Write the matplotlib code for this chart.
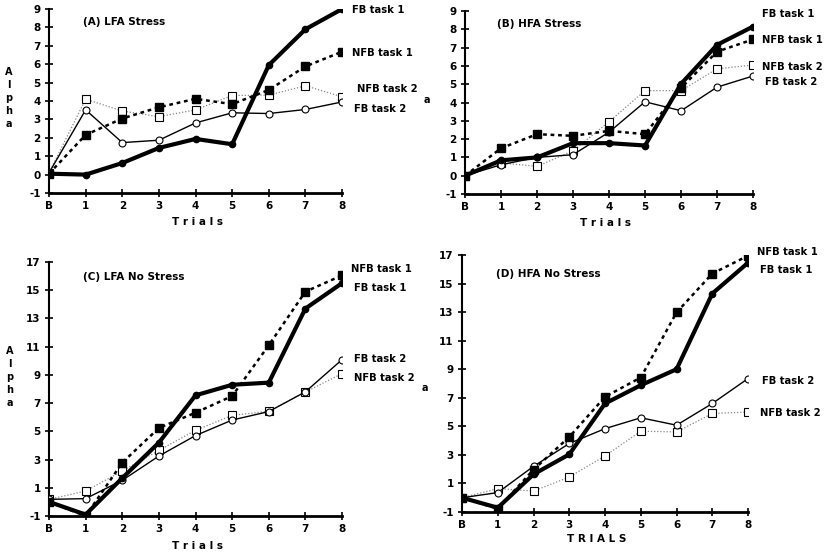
import matplotlib.pyplot as plt

plt.rcParams['axes.unicode_minus'] = False

trials = [0, 1, 2, 3, 4, 5, 6, 7, 8]
trial_labels = ['B', '1', '2', '3', '4', '5', '6', '7', '8']

# (A) LFA Stress
a_fb1 = [0.05, 0.0, 0.63, 1.45, 1.94, 1.65, 5.95, 7.9, 9.0]
a_nfb1 = [0.05, 2.16, 3.05, 3.66, 4.12, 3.83, 4.6, 5.88, 6.68]
a_nfb2 = [0.1, 4.1, 3.46, 3.15, 3.52, 4.3, 4.32, 4.83, 4.23]
a_fb2 = [0.1, 3.52, 1.74, 1.87, 2.81, 3.36, 3.32, 3.54, 3.95]

# (B) HFA Stress
b_fb1 = [0.0, 0.84, 1.0, 1.78, 1.78, 1.65, 5.02, 7.15, 8.15]
b_nfb1 = [0.0, 1.5, 2.27, 2.18, 2.45, 2.27, 4.8, 6.78, 7.45]
b_nfb2 = [0.0, 0.7, 0.51, 1.36, 2.95, 4.65, 4.65, 5.84, 6.05]
b_fb2 = [0.0, 0.6, 1.0, 1.15, 2.38, 4.04, 3.55, 4.84, 5.45]

# (C) LFA No Stress
c_fb1 = [0.0, -0.9, 1.69, 4.2, 7.55, 8.3, 8.45, 13.7, 15.5]
c_nfb1 = [0.0, -1.0, 2.78, 5.24, 6.32, 7.5, 11.1, 14.9, 16.05]
c_nfb2 = [0.18, 0.77, 2.19, 3.65, 5.07, 6.13, 6.42, 7.79, 9.09]
c_fb2 = [0.18, 0.23, 1.53, 3.25, 4.7, 5.8, 6.4, 7.8, 10.08]

# (D) HFA No Stress
d_fb1 = [0.0, -0.7, 1.64, 3.04, 6.6, 7.88, 9.0, 14.3, 16.46]
d_nfb1 = [0.0, -0.77, 1.97, 4.26, 7.07, 8.42, 12.98, 15.7, 16.95]
d_nfb2 = [0.0, 0.64, 0.47, 1.45, 2.93, 4.66, 4.61, 5.9, 6.0]
d_fb2 = [0.0, 0.36, 2.2, 3.8, 4.84, 5.6, 5.08, 6.6, 8.35]

a_ticks = [-1, 0, 1, 2, 3, 4, 5, 6, 7, 8, 9]
c_ticks = [-1, 1, 3, 5, 7, 9, 11, 13, 15, 17]

FS = 7.5
FW = 'bold'

fig = plt.figure(figsize=(8.31, 5.54), dpi=100)
fig.patch.set_facecolor('white')


def panel(rect, fb1, nfb1, nfb2, fb2, ylim, yticks, title, title_pos, labels):
    ax = fig.add_axes(rect)
    ax.plot(trials, nfb2, color='#888888', lw=0.9, ls=(0, (1, 1.5)), marker='s', ms=6,
            mfc='white', mec='black', mew=0.8, zorder=2)
    ax.plot(trials, fb2, color='black', lw=1.0, marker='o', ms=5,
            mfc='white', mec='black', mew=0.8, zorder=3)
    ax.plot(trials, nfb1, color='black', lw=1.8, ls=(0, (1.5, 1.5)), marker='s', ms=5.5,
            mfc='black', mec='black', zorder=4)
    ax.plot(trials, fb1, color='black', lw=3.0, marker='o', ms=4.5,
            mfc='black', mec='black', zorder=5)
    ax.set_xlim(0, 8)
    ax.set_ylim(*ylim)
    ax.set_xticks(trials)
    ax.set_xticklabels(trial_labels)
    ax.set_yticks(yticks)
    for s in ['top', 'right']:
        ax.spines[s].set_visible(False)
    ax.spines['left'].set_linewidth(1.5)
    ax.spines['bottom'].set_linewidth(2.0)
    ax.tick_params(direction='inout', length=6, width=1.2, labelsize=FS, pad=3)
    for lab in ax.get_xticklabels() + ax.get_yticklabels():
        lab.set_fontweight(FW)
    ax.text(title_pos[0], title_pos[1], title, transform=ax.transAxes, fontsize=FS,
            fontweight=FW, va='center', ha='left')
    for txt, x, y in labels:
        ax.text(x, y, txt, transform=ax.transAxes, fontsize=7.2, fontweight=FW,
                va='center', ha='left', clip_on=False)
    for sp in ax.spines.values():
        sp.set_clip_on(False)
    ax.set_facecolor('none')
    return ax


panel([0.059, 0.6516, 0.3526, 0.3321], a_fb1, a_nfb1, a_nfb2, a_fb2, (-1, 9), a_ticks,
      '(A) LFA Stress', (0.116, 0.93),
      [('FB task 1', 1.034, 0.995), ('NFB task 1', 1.034, 0.76),
       ('NFB task 2', 1.05, 0.565), ('FB task 2', 1.04, 0.457)])
panel([0.5596, 0.6498, 0.3466, 0.3303], b_fb1, b_nfb1, b_nfb2, b_fb2, (-1, 9), a_ticks,
      '(B) HFA Stress', (0.11, 0.93),
      [('FB task 1', 1.03, 0.984), ('NFB task 1', 1.03, 0.84),
       ('NFB task 2', 1.03, 0.694), ('FB task 2', 1.04, 0.612)])
panel([0.059, 0.0686, 0.3526, 0.4585], c_fb1, c_nfb1, c_nfb2, c_fb2, (-1, 17), c_ticks,
      '(C) LFA No Stress', (0.116, 0.94),
      [('NFB task 1', 1.03, 0.972), ('FB task 1', 1.04, 0.898),
       ('FB task 2', 1.04, 0.618), ('NFB task 2', 1.04, 0.543)])
panel([0.556, 0.0758, 0.3442, 0.4639], d_fb1, d_nfb1, d_nfb2, d_fb2, (-1, 17), c_ticks,
      '(D) HFA No Stress', (0.12, 0.926),
      [('NFB task 1', 1.03, 1.01), ('FB task 1', 1.04, 0.94),
       ('FB task 2', 1.05, 0.51), ('NFB task 2', 1.04, 0.385)])

# axis titles
fig.text(197 / 831, 1 - 222 / 554, 'T r i a l s', fontsize=FS, fontweight=FW, ha='center', va='center')
fig.text(605 / 831, 1 - 223 / 554, 'T r i a l s', fontsize=FS, fontweight=FW, ha='center', va='center')
fig.text(197 / 831, 1 - 546 / 554, 'T r i a l s', fontsize=FS, fontweight=FW, ha='center', va='center')
fig.text(597 / 831, 1 - 539 / 554, 'T R I A L S', fontsize=FS, fontweight=FW, ha='center', va='center')
fig.text(9 / 831, 1 - 98 / 554, 'A\nl\np\nh\na', fontsize=7, fontweight=FW, ha='center',
         va='center', linespacing=1.35)
fig.text(10 / 831, 1 - 377 / 554, 'A\nl\np\nh\na', fontsize=7, fontweight=FW, ha='center',
         va='center', linespacing=1.35)
# clipped fragments of the right-hand panels' y labels
fig.text(427 / 831, 1 - 100 / 554, 'a', fontsize=7, fontweight=FW, ha='center', va='center')
fig.text(425 / 831, 1 - 388 / 554, 'a', fontsize=7, fontweight=FW, ha='center', va='center')

fig.savefig('out.png', dpi=100)
